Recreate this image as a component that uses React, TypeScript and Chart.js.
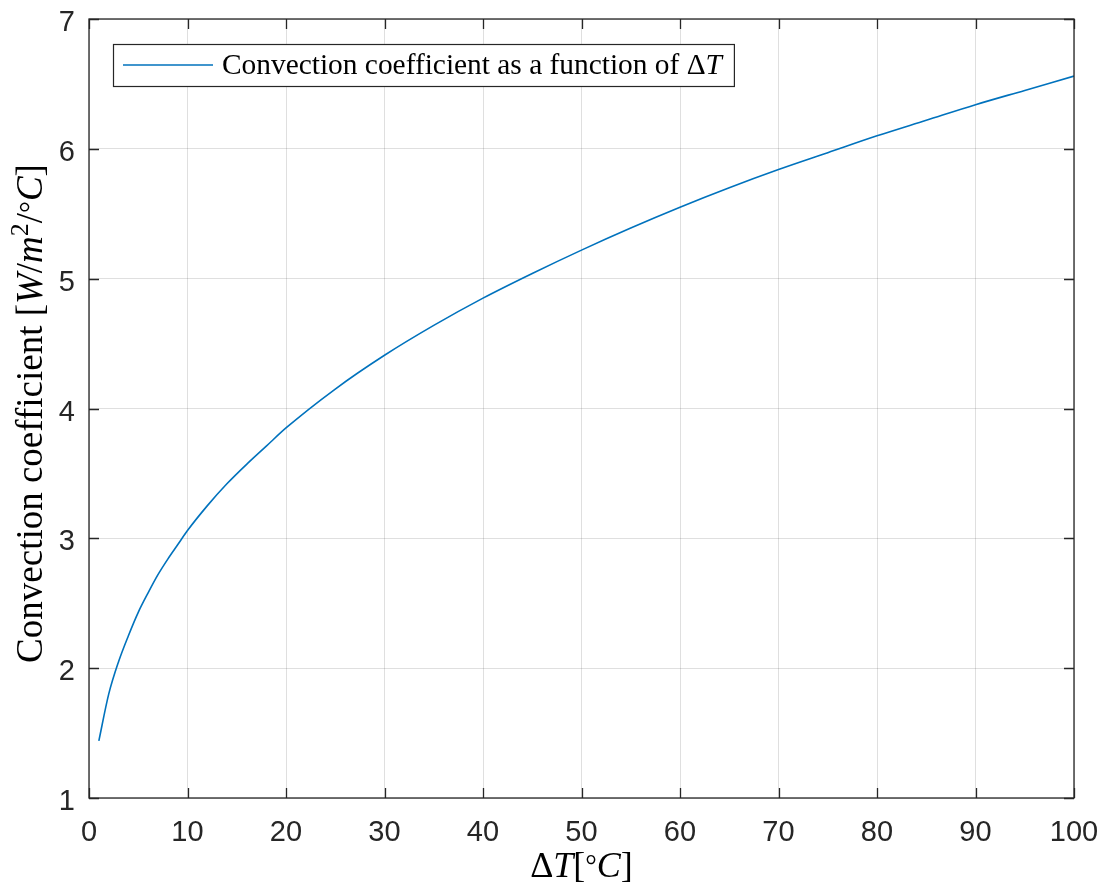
import React, { useEffect, useRef } from "react";
import { Chart, registerables } from "chart.js";

Chart.register(...registerables);

// ---- data ----
const deltaT = [1, 2, 3, 4, 5, 6, 7, 8, 9, 10, 12, 14, 16, 18, 20, 25, 30, 35, 40, 45, 50, 55, 60, 65, 70, 75, 80, 85, 90, 95, 100];
const convection = [1.44, 1.80, 2.05, 2.25, 2.43, 2.58, 2.72, 2.84, 2.95, 3.06, 3.25, 3.42, 3.57, 3.71, 3.85, 4.15, 4.41, 4.64, 4.85, 5.04, 5.22, 5.39, 5.55, 5.70, 5.84, 5.97, 6.10, 6.22, 6.34, 6.45, 6.56];
const xTicks = [0, 10, 20, 30, 40, 50, 60, 70, 80, 90, 100];
const yTicks = [1, 2, 3, 4, 5, 6, 7];
const seriesLabel = "Convection coefficient as a function of ΔT";

const AXIS_COLOR = "#262626";
const GRID_COLOR = "rgba(38,38,38,0.15)";
const LINE_COLOR = "#0072BD";
const SERIF = '"Liberation Serif", "Times New Roman", serif';
const SANS = '"Liberation Sans", Arial, Helvetica, sans-serif';

type Run = { t: string; italic?: boolean; scale?: number; dy?: number };

function runFont(r: Run, base: number) {
  return `${r.italic ? "italic " : ""}${(base * (r.scale || 1)).toFixed(1)}px ${SERIF}`;
}
function measureRuns(ctx: CanvasRenderingContext2D, runs: Run[], base: number) {
  let w = 0;
  for (const r of runs) {
    ctx.font = runFont(r, base);
    w += ctx.measureText(r.t).width;
  }
  return w;
}
function drawRuns(ctx: CanvasRenderingContext2D, runs: Run[], base: number, x: number, y: number) {
  let cx = x;
  ctx.textAlign = "left";
  ctx.textBaseline = "alphabetic";
  for (const r of runs) {
    ctx.font = runFont(r, base);
    ctx.fillText(r.t, cx, y + (r.dy || 0) * base);
    cx += ctx.measureText(r.t).width;
  }
}

const legendRuns: Run[] = [
  { t: "Convection coefficient as a function of " },
  { t: "Δ" },
  { t: "T", italic: true },
];
const xTitleRuns: Run[] = [
  { t: "Δ" },
  { t: "T", italic: true },
  { t: "[" },
  { t: "°", scale: 0.8, dy: -0.05 },
  { t: "C", italic: true },
  { t: "]" },
];
const yTitleRuns: Run[] = [
  { t: "Convection coefficient " },
  { t: "[" },
  { t: "W", italic: true },
  { t: "/" },
  { t: "m", italic: true },
  { t: "2", scale: 0.7, dy: -0.38 },
  { t: "/" },
  { t: "°", scale: 0.8, dy: -0.05 },
  { t: "C", italic: true },
  { t: "]" },
];

const decorPlugin = {
  id: "matlabDecor",
  afterDatasetsDraw(chart: any) {
    const { ctx, chartArea } = chart;
    const { left, right, top, bottom } = chartArea;
    const xs = chart.scales.x;
    const ys = chart.scales.y;
    ctx.save();
    // inner ticks
    ctx.strokeStyle = AXIS_COLOR;
    ctx.lineWidth = 1.3;
    ctx.beginPath();
    const tl = 10;
    for (const v of xTicks) {
      const px = Math.round(xs.getPixelForValue(v)) + 0.5;
      ctx.moveTo(px, bottom);
      ctx.lineTo(px, bottom - tl);
      ctx.moveTo(px, top);
      ctx.lineTo(px, top + tl);
    }
    for (const v of yTicks) {
      const py = Math.round(ys.getPixelForValue(v)) + 0.5;
      ctx.moveTo(left, py);
      ctx.lineTo(left + tl, py);
      ctx.moveTo(right, py);
      ctx.lineTo(right - tl, py);
    }
    ctx.stroke();
    // box
    ctx.strokeRect(left, top, right - left, bottom - top);

    // legend
    const legFont = 29.4;
    const textW = measureRuns(ctx, legendRuns, legFont);
    const bx = left + 24;
    const by = top + 25;
    const textX = bx + 109;
    const bw = textX - bx + textW + 12;
    const bh = 42;
    ctx.fillStyle = "#ffffff";
    ctx.fillRect(bx, by, bw, bh);
    ctx.lineWidth = 1.2;
    ctx.strokeStyle = AXIS_COLOR;
    ctx.strokeRect(bx + 0.5, by + 0.5, bw, bh);
    ctx.strokeStyle = LINE_COLOR;
    ctx.lineWidth = 1.5;
    ctx.beginPath();
    ctx.moveTo(bx + 10, by + 21);
    ctx.lineTo(bx + 100, by + 21);
    ctx.stroke();
    ctx.fillStyle = "#000000";
    drawRuns(ctx, legendRuns, legFont, textX, by + 30);

    // x title
    const xFont = 36;
    const xw = measureRuns(ctx, xTitleRuns, xFont);
    drawRuns(ctx, xTitleRuns, xFont, (left + right) / 2 - xw / 2, bottom + 79);

    // y title (rotated)
    const yFont = 37;
    const yw = measureRuns(ctx, yTitleRuns, yFont);
    ctx.translate(42, (top + bottom) / 2 + 5);
    ctx.rotate(-Math.PI / 2);
    drawRuns(ctx, yTitleRuns, yFont, -yw / 2, 0);
    ctx.restore();
  },
};

export default function App() {
  const canvasRef = useRef<HTMLCanvasElement | null>(null);

  useEffect(() => {
    const canvas = canvasRef.current;
    if (!canvas) return;
    const chart = new Chart(canvas, {
      type: "line",
      data: {
        datasets: [
          {
            label: seriesLabel,
            data: deltaT.map((x, i) => ({ x, y: convection[i] })),
            borderColor: LINE_COLOR,
            borderWidth: 1.6,
            pointRadius: 0,
            fill: false,
            cubicInterpolationMode: "monotone",
          },
        ],
      },
      options: {
        responsive: false,
        animation: false,
        events: [],
        layout: { padding: { top: 19, right: 28, left: 0, bottom: 0 } },
        plugins: {
          legend: { display: false },
          tooltip: { enabled: false },
          title: { display: false },
        },
        scales: {
          x: {
            type: "linear",
            min: 0,
            max: 100,
            afterBuildTicks: (scale: any) => {
              scale.ticks = xTicks.map((v) => ({ value: v }));
            },
            afterFit: (scale: any) => {
              scale.height = 90;
              scale.paddingLeft = 0;
              scale.paddingRight = 0;
            },
            ticks: {
              color: AXIS_COLOR,
              font: { family: SANS, size: 29 },
              padding: 18,
              maxRotation: 0,
              autoSkip: false,
            },
            grid: { color: GRID_COLOR, lineWidth: 1, drawTicks: false },
            border: { display: false },
          },
          y: {
            type: "linear",
            min: 1,
            max: 7,
            afterBuildTicks: (scale: any) => {
              scale.ticks = yTicks.map((v) => ({ value: v }));
            },
            afterFit: (scale: any) => {
              scale.width = 89;
              scale.paddingTop = 0;
              scale.paddingBottom = 0;
            },
            ticks: {
              color: AXIS_COLOR,
              font: { family: SANS, size: 29 },
              padding: 14,
              labelOffset: 4,
              autoSkip: false,
            },
            grid: { color: GRID_COLOR, lineWidth: 1, drawTicks: false },
            border: { display: false },
          },
        },
      },
      plugins: [decorPlugin],
    } as any);
    return () => chart.destroy();
  }, []);

  return (
    <div style={{ position: "absolute", left: 0, top: 0, width: 1102, height: 888, background: "#ffffff" }}>
      <canvas ref={canvasRef} width={1102} height={888} style={{ display: "block" }} />
    </div>
  );
}
